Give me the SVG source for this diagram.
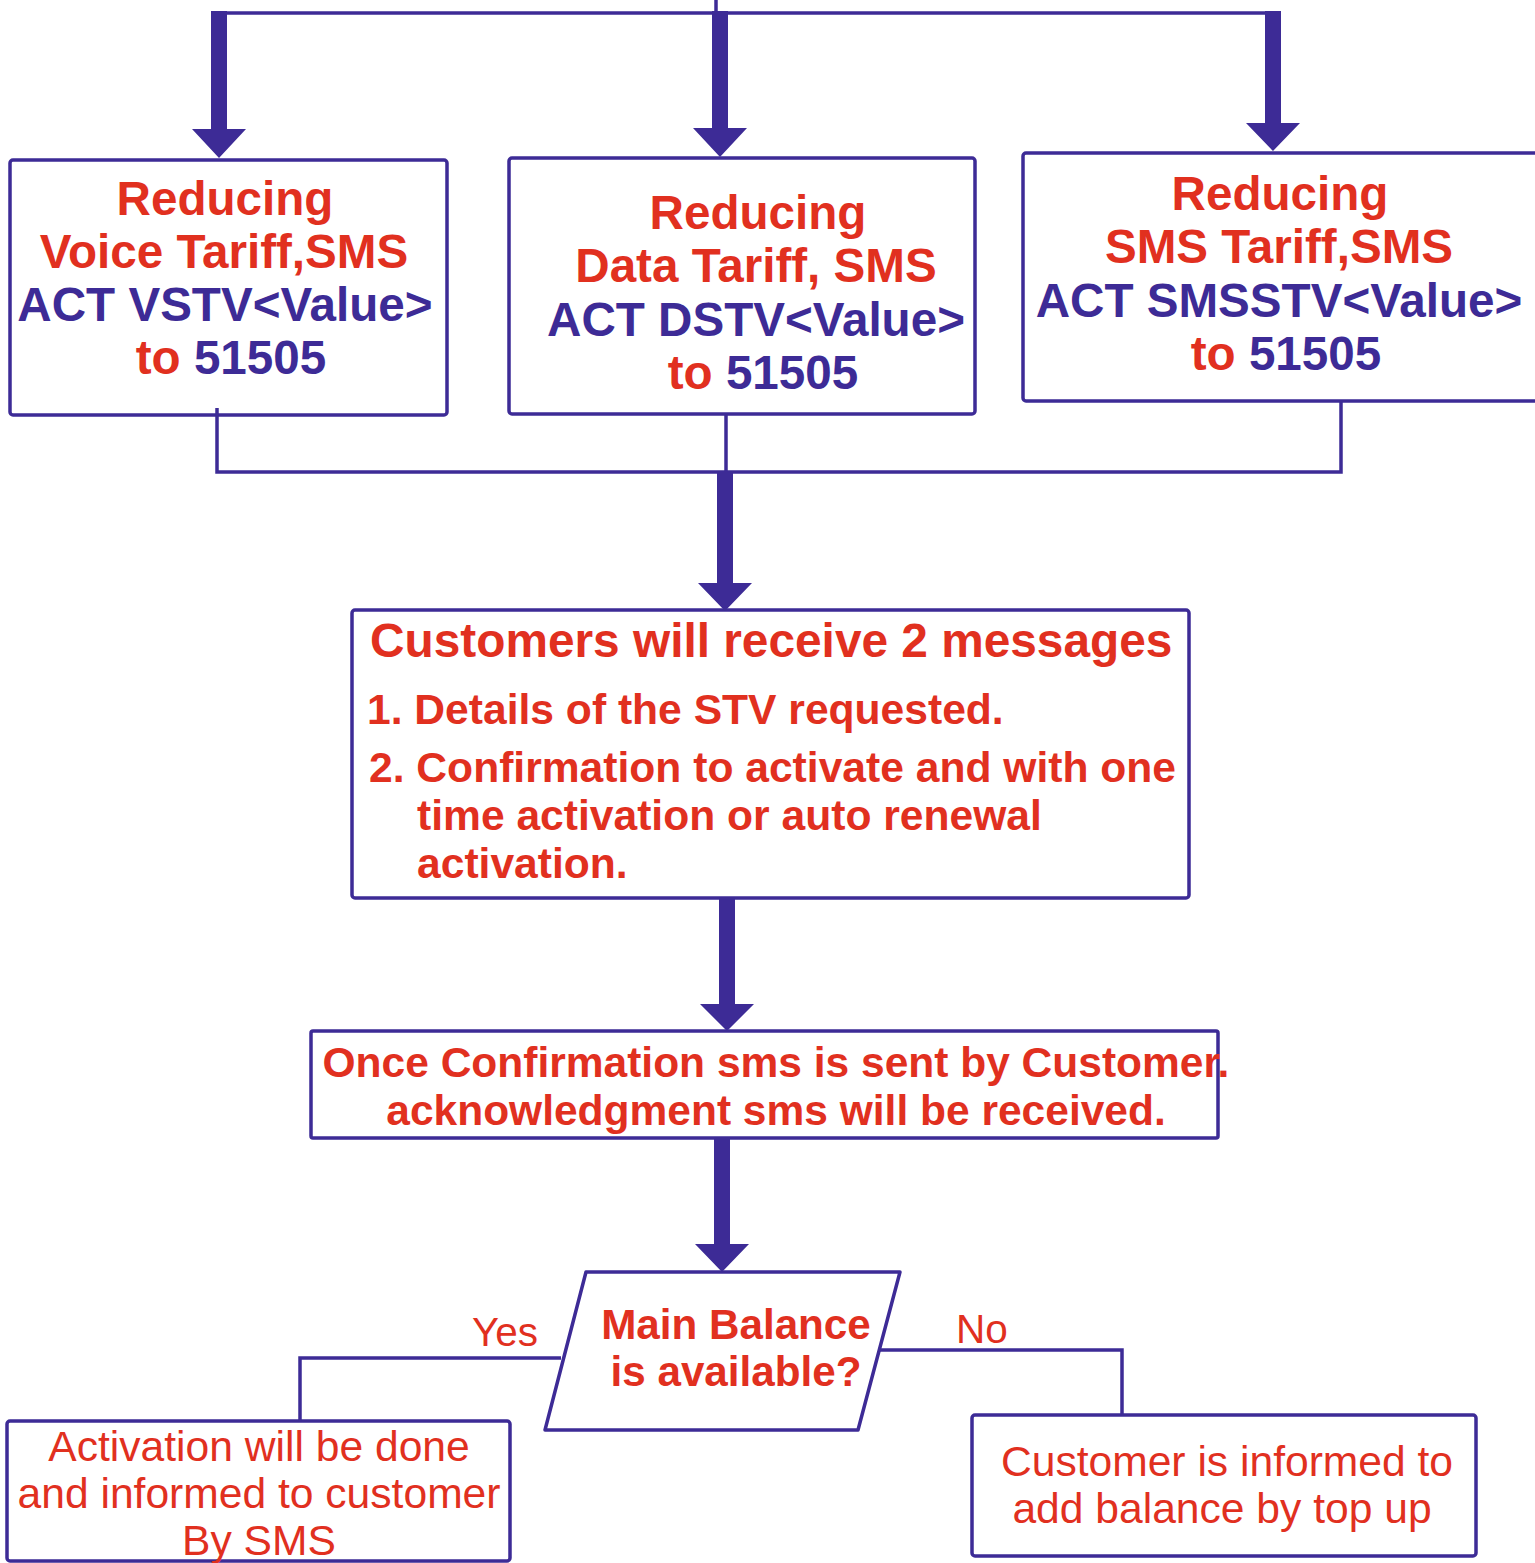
<svg xmlns="http://www.w3.org/2000/svg" width="1535" height="1563" viewBox="0 0 1535 1563">
<style>
.box{fill:#ffffff;stroke:#3d2b96;stroke-width:3.5}
.ln{fill:none;stroke:#3d2b96;stroke-width:3.5}
.arr{fill:#3d2b96;stroke:none}
.t{font-family:"Liberation Sans",Arial,sans-serif;font-weight:bold;fill:#e1301f}
.b{fill:#3d2b96}
.r{font-family:"Liberation Sans",Arial,sans-serif;font-weight:normal;fill:#e1301f}
.h{font-size:47.6px}
</style>
<rect width="1535" height="1563" fill="#ffffff"/>
<g id="node-voice">
  <rect class="box" x="10" y="160" width="437" height="255" rx="3"/>
  <text class="t h" text-anchor="middle" x="225" y="215">Reducing</text>
  <text class="t h" text-anchor="middle" x="224" y="268">Voice Tariff,SMS</text>
  <text class="t h b" text-anchor="middle" x="225" y="321">ACT VSTV&lt;Value&gt;</text>
  <text class="t h" text-anchor="middle" x="231" y="374">to <tspan class="b">51505</tspan></text>
</g>
<g id="node-data">
  <rect class="box" x="509" y="158" width="466" height="256" rx="3"/>
  <text class="t h" text-anchor="middle" x="758" y="229">Reducing</text>
  <text class="t h" text-anchor="middle" x="756" y="282">Data Tariff, SMS</text>
  <text class="t h b" text-anchor="middle" x="756" y="336">ACT DSTV&lt;Value&gt;</text>
  <text class="t h" text-anchor="middle" x="763" y="389">to <tspan class="b">51505</tspan></text>
</g>
<g id="node-sms">
  <rect class="box" x="1023" y="153" width="520" height="248" rx="3"/>
  <text class="t h" text-anchor="middle" x="1280" y="210">Reducing</text>
  <text class="t h" text-anchor="middle" x="1279" y="263">SMS Tariff,SMS</text>
  <text class="t h b" text-anchor="middle" x="1279" y="317">ACT SMSSTV&lt;Value&gt;</text>
  <text class="t h" text-anchor="middle" x="1286" y="370">to <tspan class="b">51505</tspan></text>
</g>
<g id="node-messages">
  <rect class="box" x="352" y="610" width="837" height="288" rx="3"/>
  <text class="t" font-size="47.8" x="370" y="657">Customers will receive 2 messages</text>
  <text class="t" font-size="42.6" x="367" y="724">1. Details of the STV requested.</text>
  <text class="t" font-size="42.6" x="369" y="782">2. Confirmation to activate and with one</text>
  <text class="t" font-size="42.6" x="417" y="830">time activation or auto renewal</text>
  <text class="t" font-size="42.6" x="417" y="878">activation.</text>
</g>
<g id="node-confirmation">
  <rect class="box" x="311" y="1031" width="907" height="107" rx="2"/>
  <text class="t" font-size="42.5" text-anchor="middle" x="776" y="1077">Once Confirmation sms is sent by Customer.</text>
  <text class="t" font-size="42.5" text-anchor="middle" x="776" y="1125">acknowledgment sms will be received.</text>
</g>
<g id="node-decision">
  <path class="box" d="M586,1272 H900 L858,1430 H545 Z" stroke-linejoin="round"/>
  <text class="t" font-size="42.2" text-anchor="middle" x="736" y="1339">Main Balance</text>
  <text class="t" font-size="42.2" text-anchor="middle" x="736" y="1386">is available?</text>
</g>
<g id="node-activation">
  <rect class="box" x="7" y="1421" width="503" height="140" rx="3"/>
  <text class="r" font-size="42.6" text-anchor="middle" x="259" y="1461">Activation will be done</text>
  <text class="r" font-size="42.6" text-anchor="middle" x="259" y="1508">and informed to customer</text>
  <text class="r" font-size="42.6" text-anchor="middle" x="259" y="1555">By SMS</text>
</g>
<g id="node-topup">
  <rect class="box" x="972" y="1415" width="504" height="141" rx="3"/>
  <text class="r" font-size="42.6" text-anchor="middle" x="1227" y="1476">Customer is informed to</text>
  <text class="r" font-size="42.6" text-anchor="middle" x="1222" y="1523">add balance by top up</text>
</g>
<g id="connectors">
  <path class="ln" d="M716,0 V13"/>
  <path class="ln" d="M211,13 H1281" stroke-width="4"/>
  <path class="arr" d="M211,11 H227 V129 H246 L219,158 L192,129 H211 Z"/>
  <path class="arr" d="M712,11 H728 V128 H747 L720,157 L693,128 H712 Z"/>
  <path class="arr" d="M1265,11 H1281 V123 H1300 L1273,151 L1246,123 H1265 Z"/>
  <path class="ln" d="M217,408 V472 H1341 V402"/>
  <path class="ln" d="M726,415 V472"/>
  <path class="arr" d="M717,472 H733 V583 H752 L725,611 L698,583 H717 Z"/>
  <path class="arr" d="M719,898 H735 V1004 H754 L727,1031 L700,1004 H719 Z"/>
  <path class="arr" d="M714,1138 H730 V1244 H749 L722,1272 L695,1244 H714 Z"/>
  <path class="ln" d="M561,1358 H300 V1421"/>
  <path class="ln" d="M879,1350 H1122 V1415"/>
</g>
<g id="labels">
  <text class="r" font-size="40.5" x="472" y="1346">Yes</text>
  <text class="r" font-size="40.5" x="956" y="1343">No</text>
</g>
</svg>
